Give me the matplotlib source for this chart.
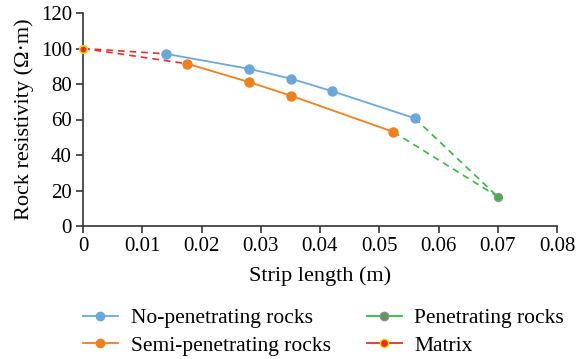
import matplotlib
matplotlib.use("Agg")
import matplotlib.pyplot as plt
from matplotlib.lines import Line2D

plt.rcParams['font.family'] = ['Liberation Serif', 'DejaVu Serif']

# series
no_pen_x = [0.0140, 0.0281, 0.0351, 0.0420, 0.0560]
no_pen_y = [97.0, 88.5, 83.0, 76.0, 60.7]
semi_x = [0.0176, 0.0281, 0.0351, 0.0524]
semi_y = [91.4, 81.0, 73.4, 53.0]
pen_x = [0.0700]
pen_y = [16.5]
matrix_x = [0.0]
matrix_y = [100.0]

c_blue = '#6aa8dc'
c_orange = '#f07f1e'
c_green = '#2ebd3a'
c_red = '#e5302a'

fig = plt.figure(figsize=(5.76, 3.59), dpi=100)
ax = fig.add_axes([83 / 576, 1 - 226 / 359, 474 / 576, 213 / 359])

# dashed connectors
for sx, sy in [(no_pen_x, no_pen_y), (semi_x, semi_y)]:
    ax.plot([matrix_x[0], sx[0]], [matrix_y[0], sy[0]], '--', color=c_red, lw=1.2, dashes=(4, 3))
    ax.plot([sx[-1], pen_x[0]], [sy[-1], pen_y[0]], '--', color=c_green, lw=1.2, dashes=(4, 3))

ax.plot(no_pen_x, no_pen_y, '-o', color=c_blue, lw=1.3, ms=6.5, mec=c_blue)
ax.plot(semi_x, semi_y, '-o', color=c_orange, lw=1.3, ms=6.5, mec=c_orange)
ax.plot(pen_x, pen_y, 'o', color=c_green, ms=5.5, mec='#8c8c8c', mew=1.2, zorder=5)
ax.plot(matrix_x, matrix_y, 'o', color=c_red, ms=5.5, mec='#f2d300', mew=1.2, zorder=5, clip_on=False)

ax.set_xlim(0, 0.08)
ax.set_ylim(0, 120)
ax.set_xticks([0, 0.01, 0.02, 0.03, 0.04, 0.05, 0.06, 0.07, 0.08])
ax.set_xticklabels(['0', '0.01', '0.02', '0.03', '0.04', '0.05', '0.06', '0.07', '0.08'])
ax.set_yticks(range(0, 121, 20))
ax.spines['top'].set_visible(False)
ax.spines['right'].set_visible(False)
for s in ['left', 'bottom']:
    ax.spines[s].set_linewidth(1.2)
    ax.spines[s].set_color('#333333')
ax.tick_params(direction='out', length=5, width=1.2, color='#333333', labelsize=15, pad=3)
ax.set_xlabel('Strip length (m)', fontsize=16, labelpad=7)
ax.set_ylabel('Rock resistivity (Ω·m)', fontsize=16, labelpad=5)

handles = [
    Line2D([], [], color=c_blue, marker='o', ms=6, lw=1.3),
    Line2D([], [], color=c_orange, marker='o', ms=6, lw=1.3),
    Line2D([], [], color=c_green, marker='o', ms=6, lw=1.3, mfc='#5a9a5a', mec='#8c8c8c'),
    Line2D([], [], color=c_red, marker='o', ms=6, lw=1.3, mec='#f2d300'),
]
labels = ['No-penetrating rocks', 'Semi-penetrating rocks', 'Penetrating rocks', 'Matrix']
fig.legend(handles, labels, loc='lower center', bbox_to_anchor=(0.562, -0.045), ncol=2,
           frameon=False, fontsize=15.5, handlelength=1.6, columnspacing=1.7,
           labelspacing=0.35, handletextpad=0.6)

fig.savefig('out.png', dpi=100)
